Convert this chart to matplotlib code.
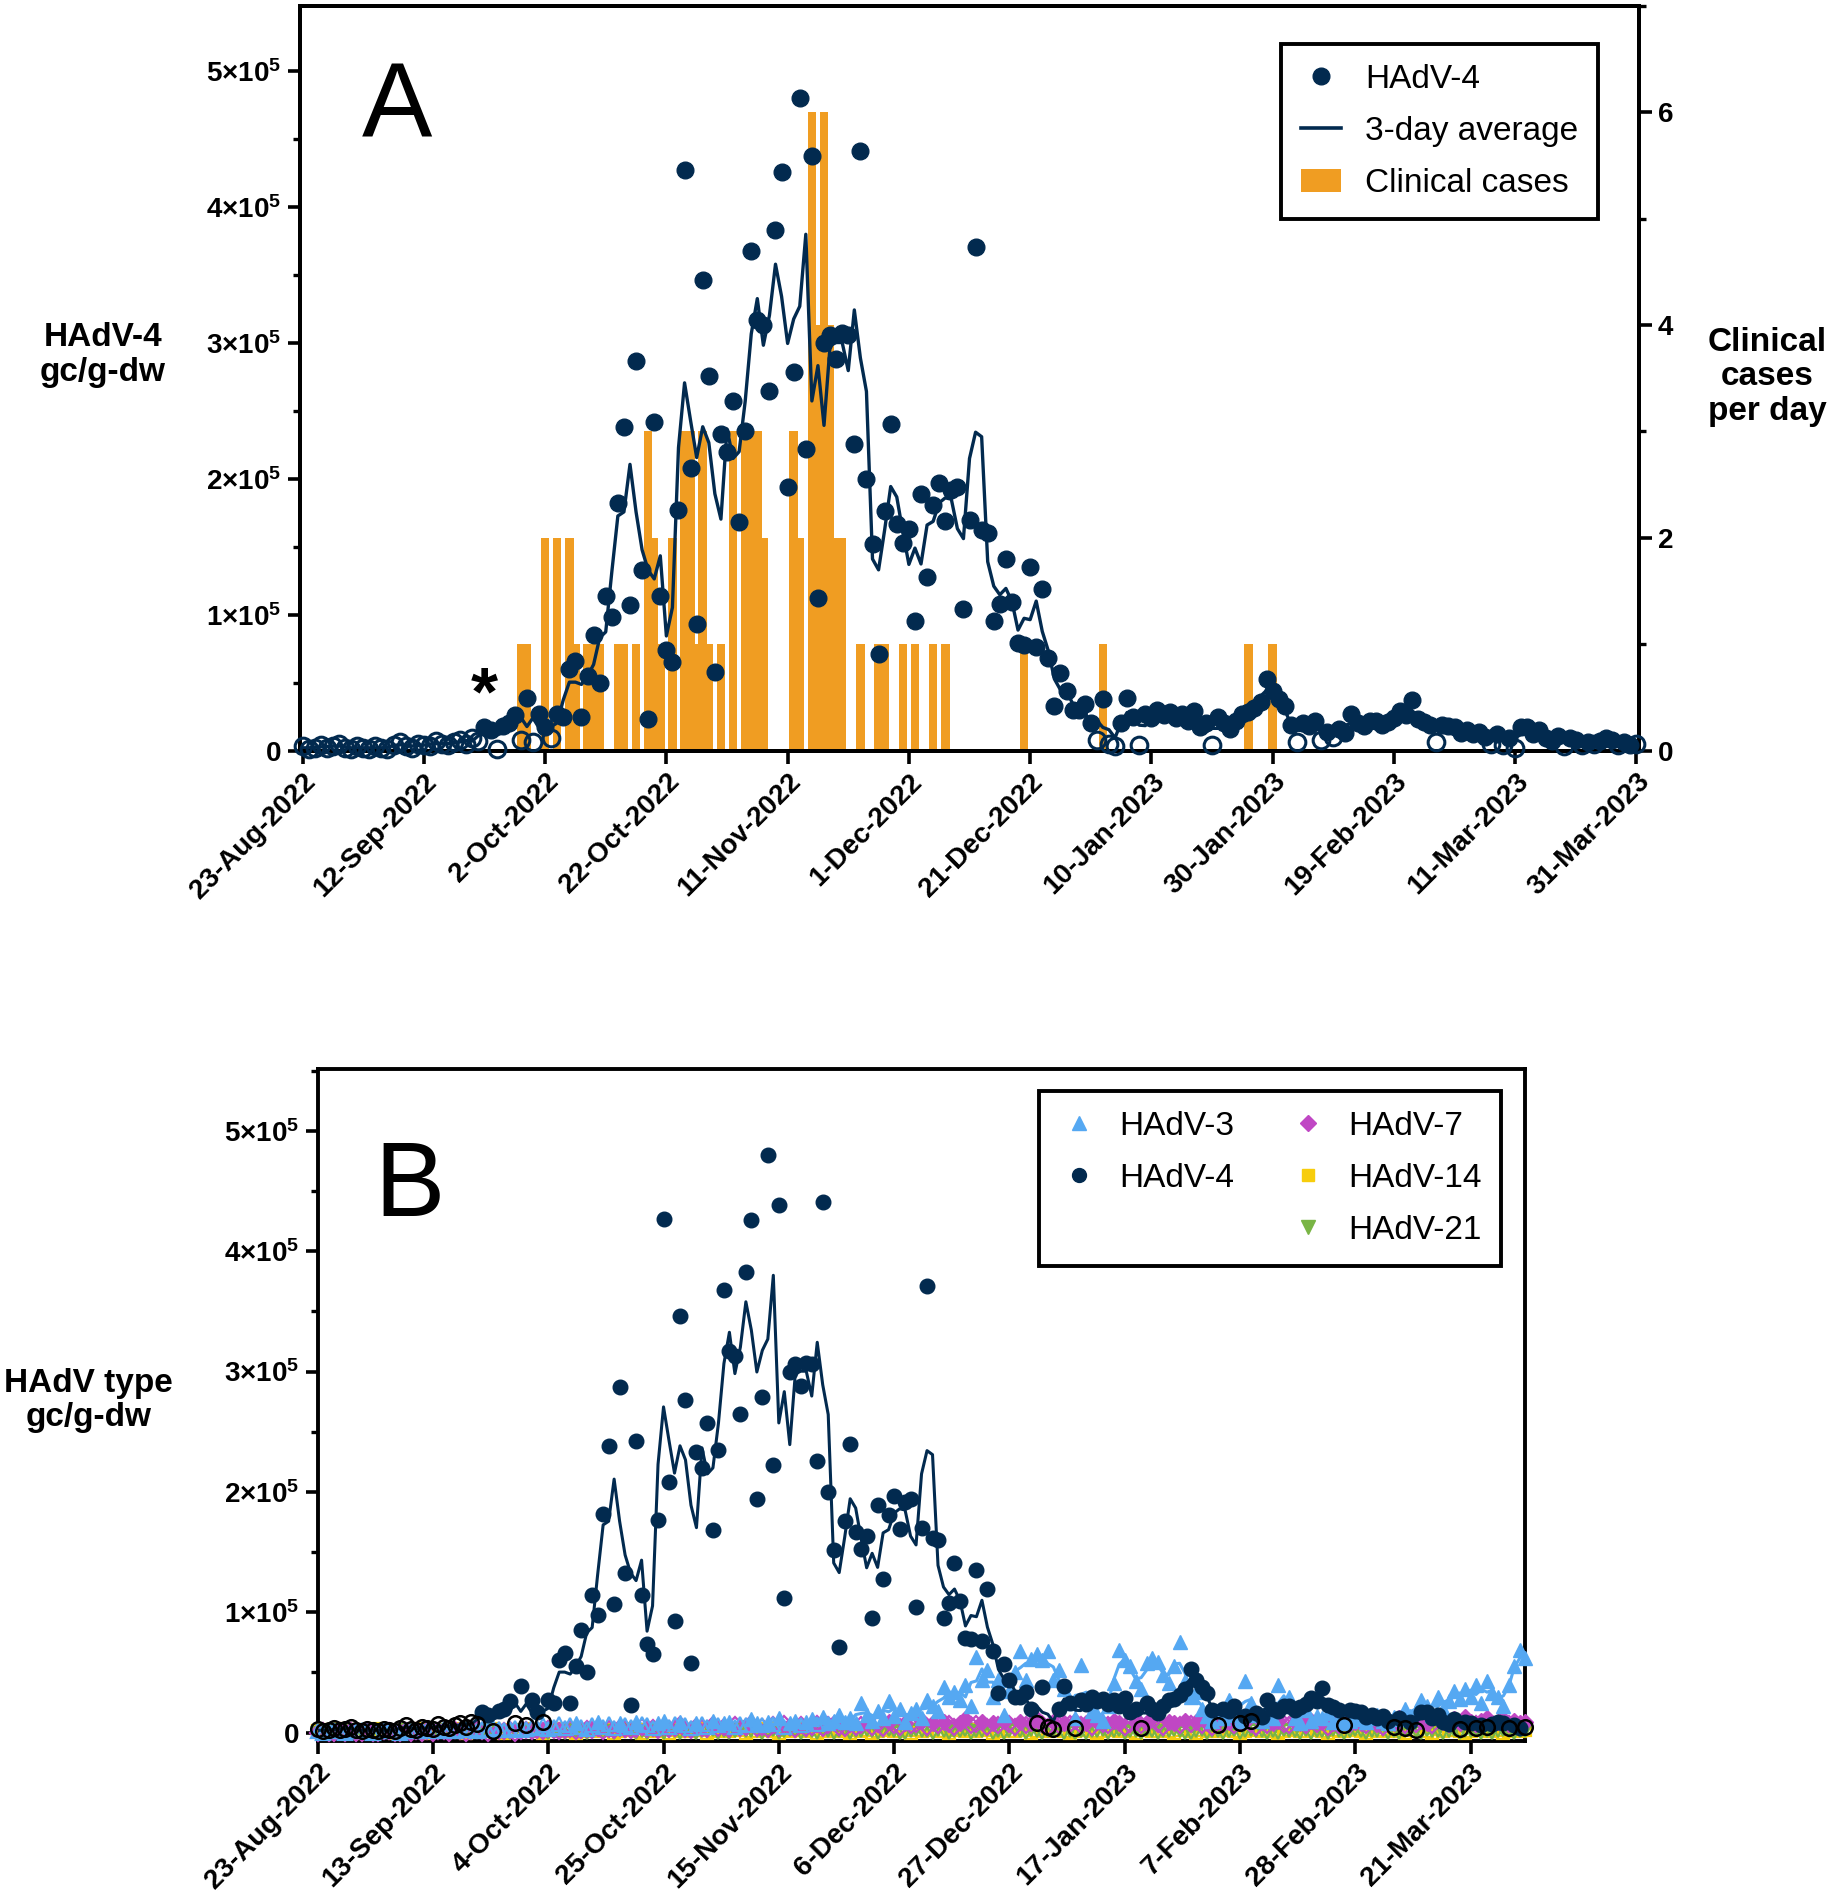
import numpy as np
import pandas as pd
import matplotlib
matplotlib.use('Agg')
import matplotlib.pyplot as plt
from matplotlib.lines import Line2D
from matplotlib.patches import Patch
from matplotlib.ticker import MultipleLocator

plt.rcParams['font.family'] = ['Liberation Sans', 'DejaVu Sans']
plt.rcParams['mathtext.fontset'] = 'custom'
plt.rcParams['mathtext.rm'] = 'Liberation Sans'
plt.rcParams['mathtext.bf'] = 'Liberation Sans:bold'

# ---- data (daily samples from 23-Aug-2022, values in 1000 gc/g-dw) ----
start_date = '2022-08-23'

hadv4 = [3, 1, 2, 4, 2, 3, 5, 2, 1, 3,
         2, 1, 3, 2, 1, 4, 6, 3, 2, 5,
         4, 3, 7, 5, 4, 6, 8, 5, 9, 7,
         17, 15, 1, 18, 20, 26, 8, 39, 6, 27,
         17, 9, 27, 25, 60, 66, 25, 55, 85, 50,
         114, 98, 182, 238, 107, 287, 133, 23, 242, 114,
         74, 65, 177, 427, 208, 93, 346, 276, 58, 233,
         220, 257, 168, 235, 368, 317, 313, 265, 383, 426,
         194, 279, 480, 222, 438, 112, 300, 306, 288, 307,
         306, 226, 441, 200, 152, 71, 176, 240, 167, 153,
         163, 95, 189, 128, 181, 197, 169, 192, 194, 104,
         170, 371, 162, 160, 95, 108, 141, 109, 79, 78,
         135, 76, 119, 68, 33, 57, 44, 30, 30, 34,
         20, 8, 38, 5, 3, 20, 39, 25, 4, 27,
         24, 30, 26, 28, 24, 27, 22, 29, 17, 20,
         4, 25, 20, 16, 22, 27, 28, 31, 36, 53,
         44, 38, 33, 19, 6, 20, 18, 22, 8, 14,
         10, 16, 13, 27, 20, 18, 22, 22, 19, 21,
         24, 29, 26, 37, 23, 21, 19, 6, 19, 18,
         17, 13, 15, 12, 14, 10, 5, 12, 4, 9,
         2, 17, 17, 12, 15, 9, 7, 11, 3, 9,
         8, 4, 6, 5, 7, 9, 8, 4, 6, 4,
         5]

# sample days (index) below quantification -> open symbols
hadv4_bloq_days = list(range(30)) + [32, 36, 38, 41, 131, 133, 134, 138, 150,
                                     164, 168, 170, 187, 196, 198, 200, 208,
                                     211, 213, 217, 220]

hadv3 = [1, 0, 1, 2, 1, 0, 1, 1, 2, 1, 0, 1, 2, 1, 1, 0, 2, 1, 1, 2,
         1, 2, 1, 3, 2, 1, 2, 3, 2, 1, 3, 2, 4, 3, 2, 3, 4, 2, 3, 5,
         4, 6, 3, 5, 7, 4, 6, 8, 5, 3, 6, 9, 5, 7, 4, 8, 6, 5, 9, 7,
         6, 4, 8, 10, 5, 7, 9, 6, 4, 8, 7, 5, 10, 6, 8, 9, 5, 7, 6, 11,
         8, 6, 9, 7, 12, 5, 8, 10, 6, 9, 11, 7, 13, 8, 10, 15, 9,
         12, 8, 25, 15, 10, 18, 12, 26, 14, 20,
         9, 16, 20, 12, 27, 22, 18, 38, 30, 34,
         27, 40, 22, 63, 44, 52, 30, 44, 15, 35,
         50, 68, 44, 61, 65, 60, 68, 44, 52, 36,
         25, 12, 56, 27, 18, 15, 10, 22, 41, 69,
         60, 55, 43, 36, 58, 62, 59, 48, 41, 55,
         75, 43, 30, 34, 20, 14, 10, 18, 12, 27,
         15, 10, 43, 25, 15, 10, 20, 12, 40, 22,
         30, 12, 8, 19, 10, 14, 12, 16, 9, 12,
         8, 10, 14, 11, 9, 12, 15, 10, 8, 13,
         11, 20, 14, 18, 27, 22, 15, 30, 20, 26,
         35, 28, 36, 30, 40, 25, 43, 33, 30, 22,
         40, 55, 69, 62]

hadv7 = [0, 1, 0, 0, 1, 0, 1, 0, 0, 1, 0, 0, 1, 1, 0, 0, 1, 0, 1, 0,
         1, 0, 1, 1, 0, 2, 1, 0, 1, 2, 1, 0, 2, 1, 1, 2, 0, 1, 2, 1,
         2, 1, 3, 2, 1, 2, 3, 1, 2, 3, 2, 4, 1, 3, 2, 4, 3, 2, 3, 5,
         3, 4, 2, 5, 3, 4, 6, 3, 2, 5, 4, 3, 6, 4, 5, 3, 6, 4, 5, 7,
         4, 5, 3, 6, 4, 7, 5, 3, 6, 4, 5, 7, 4, 6, 8, 5, 4, 7, 5, 6,
         8, 5, 7, 4, 9, 6, 5, 8, 6, 7, 10, 5, 8, 6, 9, 7, 5, 8, 11, 6,
         7, 9, 5, 8, 6, 10, 7, 5, 9, 6, 8, 11, 7, 5, 9, 6, 8, 7, 10, 6,
         8, 5, 9, 7, 6, 10, 8, 5, 7, 9, 6, 8, 12, 7, 5, 9, 8, 6, 10, 7,
         9, 6, 8, 5, 10, 7, 9, 6, 8, 11, 7, 5, 9, 6, 8, 10, 7, 6, 9, 8,
         6, 10, 7, 9, 5, 8, 6, 11, 7, 9, 8, 6, 10, 7, 5, 9, 8, 12, 6, 9,
         7, 10, 8, 6, 12, 9, 7, 11, 8, 13, 9, 7, 10, 12, 8, 9, 11, 7, 10, 8,
         9]

hadv14 = [1, 2, 0, 1, 3, 1, 2, 1, 0, 2, 1, 3, 2, 1, 0, 1, 2, 1, 3, 2,
          0, 1, 2, 1, 1, 3, 2, 0, 1, 2, 1, 2, 3, 1, 0, 2, 1, 1, 2, 3,
          1, 0, 2, 3, 1, 2, 1, 0, 2, 1, 3, 1, 2, 2, 0, 1, 3, 2, 1, 0,
          2, 1, 1, 3, 0, 2, 1, 2, 1, 3, 2, 0, 1, 2, 1, 1, 3, 2, 0, 1,
          1, 2, 3, 1, 0, 2, 1, 2, 2, 1, 3, 0, 1, 2, 1, 3, 1, 0, 2, 1,
          2, 0, 1, 2, 3, 1, 1, 2, 0, 2, 1, 3, 2, 1, 1, 0, 2, 3, 1, 2,
          1, 3, 2, 0, 1, 2, 1, 1, 3, 2, 0, 1, 2, 1, 2, 3, 1, 0, 1, 2,
          2, 1, 0, 1, 3, 2, 1, 2, 1, 0, 2, 3, 1, 1, 2, 1, 0, 2, 3, 1,
          0, 2, 1, 3, 1, 2, 2, 1, 0, 1, 3, 2, 1, 2, 1, 0, 1, 2, 3, 1,
          1, 2, 3, 1, 0, 2, 1, 1, 2, 3, 1, 0, 2, 1, 2, 1, 3, 1, 0, 2,
          2, 1, 1, 0, 3, 1, 2, 2, 1, 0, 1, 3, 2, 1, 1, 2, 0, 1, 2, 1,
          2]

hadv21 = [0, 1, 0, 1, 2, 0, 1, 1, 0, 0, 1, 2, 1, 0, 1, 0, 2, 1, 0, 1,
          1, 0, 2, 1, 0, 1, 1, 2, 0, 1, 0, 1, 2, 1, 0, 0, 1, 2, 1, 0,
          2, 1, 0, 1, 1, 0, 2, 1, 1, 0, 1, 2, 0, 1, 0, 2, 1, 1, 0, 1,
          0, 2, 1, 0, 1, 1, 0, 2, 1, 0, 1, 1, 2, 0, 1, 0, 1, 2, 1, 1,
          1, 0, 1, 2, 0, 1, 2, 1, 0, 1, 1, 0, 2, 1, 0, 1, 2, 0, 1, 1,
          2, 1, 0, 1, 2, 1, 0, 0, 1, 2, 1, 1, 0, 2, 1, 0, 1, 1, 2, 0,
          1, 1, 2, 0, 1, 0, 1, 2, 1, 0, 2, 1, 0, 1, 1, 2, 0, 1, 0, 1,
          0, 1, 1, 2, 0, 1, 2, 0, 1, 1, 0, 2, 1, 0, 1, 1, 2, 1, 0, 0,
          1, 2, 0, 1, 1, 0, 1, 2, 0, 1, 2, 1, 1, 0, 1, 0, 2, 1, 1, 0,
          2, 0, 1, 1, 0, 2, 1, 0, 1, 2, 1, 0, 1, 1, 2, 0, 1, 0, 1, 2,
          1, 0, 2, 1, 1, 0, 1, 2, 0, 1, 1, 2, 0, 1, 0, 1, 2, 1, 0, 1,
          1]

case_dates = ['2022-09-28', '2022-09-29', '2022-10-02', '2022-10-04', '2022-10-06',
              '2022-10-07', '2022-10-09', '2022-10-10', '2022-10-11', '2022-10-14',
              '2022-10-15', '2022-10-17', '2022-10-19', '2022-10-20', '2022-10-21',
              '2022-10-23', '2022-10-25', '2022-10-26', '2022-10-27', '2022-10-28',
              '2022-10-29', '2022-10-31', '2022-11-02', '2022-11-04', '2022-11-05',
              '2022-11-06', '2022-11-07', '2022-11-12', '2022-11-13', '2022-11-15',
              '2022-11-16', '2022-11-17', '2022-11-18', '2022-11-19', '2022-11-20',
              '2022-11-23', '2022-11-26', '2022-11-27', '2022-11-30', '2022-12-02',
              '2022-12-05', '2022-12-07', '2022-12-20', '2023-01-02', '2023-01-26',
              '2023-01-30']
case_counts = [1, 1, 2, 2, 2, 1, 1, 1, 1, 1, 1, 1, 3, 2, 1, 2, 3, 3, 1, 3,
               1, 1, 3, 3, 3, 3, 2, 3, 2, 6, 4, 6, 4, 2, 2, 1, 1, 1, 1, 1,
               1, 1, 1, 1, 1, 1]

NAVY = '#022a4f'
ORANGE = '#f09d22'
LBLUE = '#55a8f2'
MAGENTA = '#c047c4'
YELLOW = '#f7cd0c'
GREEN = '#79b545'

dates = pd.date_range(start_date, periods=len(hadv4), freq='D')
v4 = np.array(hadv4) * 1000.0
bloq4 = np.zeros(len(hadv4), dtype=bool)
bloq4[hadv4_bloq_days] = True
avg4 = pd.Series(v4).rolling(3, center=True, min_periods=1).mean().values


def fmt_date(d):
    return f"{d.day}-{d.strftime('%b-%Y')}"


def sci_labels(ticks):
    out = []
    for t in ticks:
        n = int(round(t / 1e5))
        out.append('0' if n == 0 else r'$\mathbf{%d{\times}10^{5}}$' % n)
    return out


def style_axes(ax):
    for s in ax.spines.values():
        s.set_linewidth(2.8)
    ax.tick_params(axis='both', which='major', length=9, width=2.6, labelsize=20, pad=4)
    ax.tick_params(axis='both', which='minor', length=5, width=2.4)


fig = plt.figure(figsize=(18.31, 19.02), dpi=100)

# ---------------- panel A ----------------
ax = fig.add_axes([0.1636, 0.6054, 0.7318, 0.3914])
ax2 = ax.twinx()
ax.set_zorder(ax2.get_zorder() + 1)
ax.patch.set_visible(False)

ax2.bar(pd.to_datetime(case_dates), case_counts, width=1.4, color=ORANGE, linewidth=0)
ax2.set_ylim(0, 7)
ax2.set_yticks([0, 2, 4, 6])
ax2.set_yticklabels(['0', '2', '4', '6'], fontweight='bold')
ax2.yaxis.set_minor_locator(MultipleLocator(1))

ax.plot(dates, avg4, color=NAVY, lw=2.4, zorder=2)
ax.plot(dates[~bloq4], v4[~bloq4], 'o', ms=12, color=NAVY, zorder=3, clip_on=False)
ax.plot(dates[bloq4], v4[bloq4], 'o', ms=12, mfc='none', mec=NAVY, mew=2.2,
        zorder=3, clip_on=False)

ax.set_ylim(0, 548000)
yt = [0, 1e5, 2e5, 3e5, 4e5, 5e5]
ax.set_yticks(yt)
ax.set_yticklabels(sci_labels(yt), fontweight='bold')
ax.yaxis.set_minor_locator(MultipleLocator(50000))

xt = pd.date_range(start_date, periods=12, freq='20D')
ax.set_xticks(xt)
ax.set_xticklabels([fmt_date(d) for d in xt], rotation=45, ha='right',
                   rotation_mode='anchor', fontweight='bold')
ax.set_xlim(dates[0] - pd.Timedelta(hours=12), dates[0] + pd.Timedelta(days=220, hours=12))
style_axes(ax)
style_axes(ax2)
ax.tick_params(axis='x', which='minor', length=0)

ax.text(dates[0] + pd.Timedelta(days=30), 40000, '*', fontsize=50, fontweight='bold',
        ha='center', va='center')

hA = [Line2D([], [], marker='o', ls='none', color=NAVY, ms=12),
      Line2D([], [], color=NAVY, lw=2.6),
      Patch(facecolor=ORANGE, edgecolor='none')]
legA = ax.legend(hA, ['HAdV-4', '3-day average', 'Clinical cases'], loc='upper right',
                 bbox_to_anchor=(0.969, 0.949), borderaxespad=0, fontsize=24,
                 fancybox=False, framealpha=1, edgecolor='black', handlelength=1.2,
                 handletextpad=0.7, labelspacing=0.63, borderpad=0.6)
legA.get_frame().set_linewidth(2.8)

fig.text(0.0563, 0.8133, 'HAdV-4\ngc/g-dw', fontsize=24, fontweight='bold',
         ha='center', va='center', linespacing=1.15)
fig.text(0.965, 0.8018, 'Clinical\ncases\nper day', fontsize=24, fontweight='bold',
         ha='center', va='center', linespacing=1.15)
fig.text(0.2166, 0.9425, 'A', fontsize=76, ha='center', va='center')

# ---------------- panel B ----------------
bx = fig.add_axes([0.1735, 0.0846, 0.6596, 0.3531])

v3 = np.array(hadv3) * 1000.0
v7 = np.array(hadv7) * 1000.0
v14 = np.array(hadv14) * 1000.0
v21 = np.array(hadv21) * 1000.0
loq = 8000.0

for vals, col, mk, ms in [(v14, YELLOW, 's', 8), (v21, GREEN, 'v', 9),
                          (v7, MAGENTA, 'D', 8), (v3, LBLUE, '^', 10)]:
    avg = pd.Series(vals).rolling(3, center=True, min_periods=1).mean().values
    bx.plot(dates, avg, color=col, lw=2.2 if col == LBLUE else 1.4, zorder=2)
    low = vals < loq
    bx.plot(dates[~low], vals[~low], mk, ms=ms, color=col, zorder=3, clip_on=False)
    bx.plot(dates[low], vals[low], mk, ms=ms, mfc='none', mec=col, mew=1.6,
            zorder=3, clip_on=False)

bx.plot(dates, avg4, color=NAVY, lw=2.2, zorder=4)
bx.plot(dates[~bloq4], v4[~bloq4], 'o', ms=10.5, color=NAVY, zorder=5, clip_on=False)
bx.plot(dates[bloq4], v4[bloq4], 'o', ms=10.5, mfc='none', mec='black', mew=1.8,
        zorder=5, clip_on=False)

bx.set_ylim(-7000, 551000)
bx.set_yticks(yt)
bx.set_yticklabels(sci_labels(yt), fontweight='bold')
bx.yaxis.set_minor_locator(MultipleLocator(50000))
xtb = pd.date_range(start_date, periods=11, freq='21D')
bx.set_xticks(xtb)
bx.set_xticklabels([fmt_date(d) for d in xtb], rotation=45, ha='right',
                   rotation_mode='anchor', fontweight='bold')
bx.set_xlim(dates[0], dates[0] + pd.Timedelta(days=220))
style_axes(bx)
bx.tick_params(axis='x', which='minor', length=0)

hB = [Line2D([], [], marker='^', ls='none', color=LBLUE, ms=10),
      Line2D([], [], marker='o', ls='none', color=NAVY, ms=10),
      Line2D([], [], ls='none'),
      Line2D([], [], marker='D', ls='none', color=MAGENTA, ms=8),
      Line2D([], [], marker='s', ls='none', color=YELLOW, ms=9),
      Line2D([], [], marker='v', ls='none', color=GREEN, ms=10)]
legB = bx.legend(hB, ['HAdV-3', 'HAdV-4', '', 'HAdV-7', 'HAdV-14', 'HAdV-21'],
                 ncol=2, loc='upper right', bbox_to_anchor=(0.98, 0.968), borderaxespad=0,
                 fontsize=24, fancybox=False, framealpha=1, edgecolor='black',
                 handlelength=1.2, handletextpad=0.6, labelspacing=0.63, borderpad=0.6,
                 columnspacing=1.6)
legB.get_frame().set_linewidth(2.8)

fig.text(0.0484, 0.2636, 'HAdV type\ngc/g-dw', fontsize=24, fontweight='bold',
         ha='center', va='center', linespacing=1.15)
fig.text(0.2239, 0.3753, 'B', fontsize=76, ha='center', va='center')

fig.savefig('out.png', dpi=100, facecolor='white')
